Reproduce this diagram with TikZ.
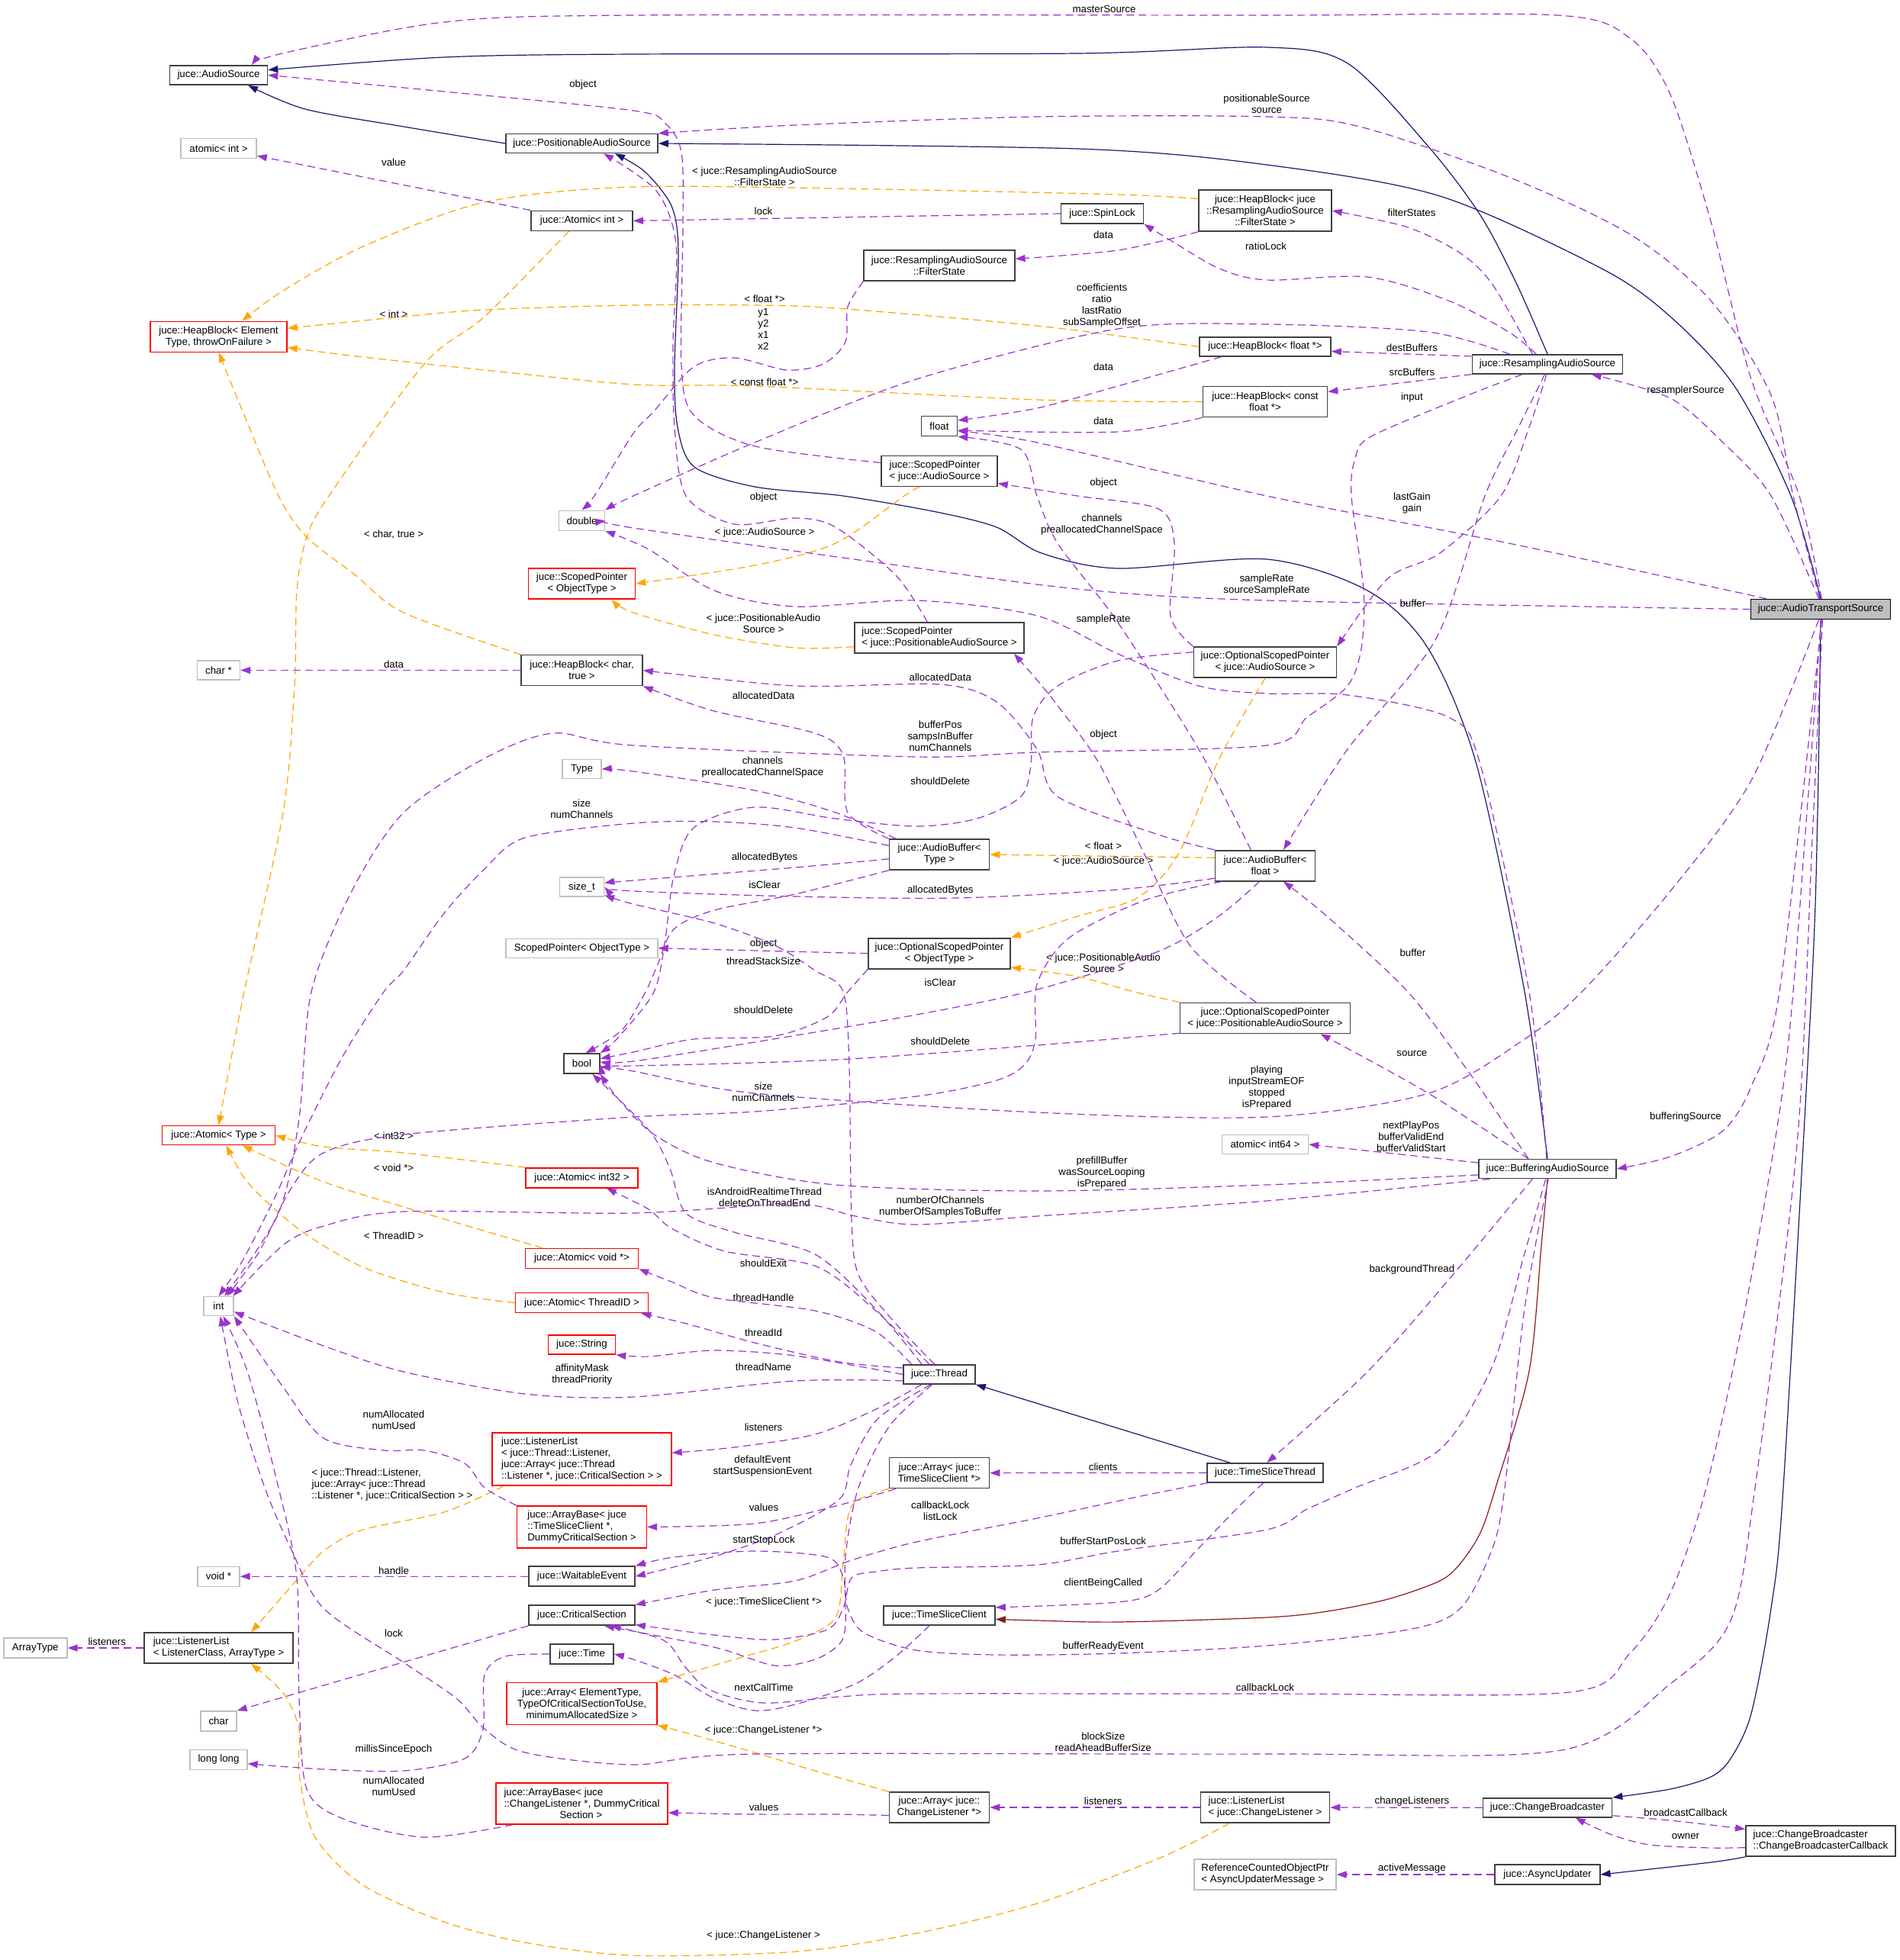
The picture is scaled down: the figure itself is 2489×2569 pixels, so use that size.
\documentclass[tikz,border=0pt]{standalone}
\usepackage{fontspec}
\setmainfont{Liberation Sans}
\usepackage{xcolor}
\usepackage{tikz}
\usetikzlibrary{arrows.meta}
\definecolor{MemberPurple}{HTML}{9A32CD}
\definecolor{TemplateOrange}{HTML}{FFA500}
\definecolor{BaseNavy}{HTML}{191970}
\definecolor{ProtRed}{HTML}{8B1A1A}
\definecolor{NodeGrey}{HTML}{BFBFBF}
\definecolor{NodeDark}{HTML}{404040}
\tikzstyle{cls} = [rectangle, draw=NodeDark, line width=1.6pt, fill=white, inner sep=2pt, align=center]
\tikzstyle{extcls} = [rectangle, draw=NodeGrey, line width=1.4pt, fill=white, inner sep=2pt, align=center]
\tikzstyle{trunc} = [rectangle, draw=red, line width=1.4pt, fill=white, inner sep=2pt, align=center]
\tikzstyle{maincls} = [rectangle, draw=black, line width=1.6pt, fill=NodeGrey, inner sep=2pt, align=center]
\tikzstyle{lbl} = [inner sep=0pt, align=center]
\tikzstyle{member} = [MemberPurple, line width=1.2pt, dash pattern=on 10pt off 6pt, -{Triangle[length=13pt, width=9pt]}]
\tikzstyle{tmpl} = [TemplateOrange, line width=1.2pt, dash pattern=on 10pt off 6pt, -{Triangle[length=13pt, width=9pt]}]
\tikzstyle{inherit} = [BaseNavy, line width=1.2pt, -{Triangle[length=13pt, width=9pt]}]
\tikzstyle{protinherit} = [ProtRed, line width=1.2pt, -{Triangle[length=13pt, width=9pt]}]
\tikzset{box/.style 2 args={minimum width=#1pt, minimum height=#2pt}}

\begin{document}
\begin{tikzpicture}[x=1pt, y=-1pt, font=\fontsize{13.3}{15}\selectfont]
\fill [white] (0,0) rectangle (2489,2569);
\useasboundingbox (0,0) rectangle (2489,2569);

% plain types, left column
\node (audio_source) [cls, box={128}{25}] at (286.5,98.5) {juce::AudioSource};
\node (std_atomic_int) [extcls, box={99}{26}] at (286.5,194.5) {atomic< int >};
\node (heap_block) [trunc, box={179}{40}] at (286.5,441.3) {juce::HeapBlock< Element\\Type, throwOnFailure >};
\node (char_ptr) [extcls, box={56}{25}] at (286.5,878.6) {char *};
\node (atomic_type) [trunc, box={148}{25}] at (286.5,1488) {juce::Atomic< Type >};
\node (t_int) [extcls, box={39}{25}] at (286.5,1712) {int};
\node (void_ptr) [extcls, box={55}{26}] at (286.5,2066.2) {void *};
\node (listener_list) [cls, align=left, box={195}{40}] at (286.5,2160) {juce::ListenerList\\< ListenerClass, ArrayType >};
\node (t_char) [extcls, box={47}{26}] at (286.5,2255.8) {char};
\node (long_long) [extcls, box={75}{26}] at (286.5,2306.3) {long long};
\node (array_type) [extcls, box={83}{26}] at (46.3,2160) {ArrayType};

% second column
\node (positionable) [cls, box={199}{25}] at (762.5,188) {juce::PositionableAudioSource};
\node (atomic_int) [cls, box={133}{26}] at (762.5,289.4) {juce::Atomic< int >};
\node (t_double) [extcls, box={60}{26}] at (762.5,682.3) {double};
\node (scoped_ptr) [trunc, box={140}{40}] at (762.5,765) {juce::ScopedPointer\\< ObjectType >};
\node (heap_block_char) [cls, box={159}{40}] at (762.5,878.6) {juce::HeapBlock< char,\\true >};
\node (t_type) [extcls, box={51}{25}] at (762.5,1008) {Type};
\node (t_size) [extcls, box={58}{25}] at (762.5,1162.6) {size\_t};
\node (scoped_ptr_std) [extcls, box={199}{25}] at (762.5,1242.7) {ScopedPointer< ObjectType >};
\node (t_bool) [cls, box={47}{26}] at (762.5,1394) {bool};
\node (atomic_int32) [trunc, box={147}{26}] at (762.5,1543.8) {juce::Atomic< int32 >};
\node (atomic_voidp) [trunc, box={148}{26}] at (762.5,1649.5) {juce::Atomic< void *>};
\node (atomic_threadid) [trunc, box={174}{26}] at (762.5,1707.7) {juce::Atomic< ThreadID >};
\node (string) [trunc, box={88}{25}] at (762.5,1762.5) {juce::String};
\node (listener_list_thread) [trunc, align=left, box={235}{69}] at (762.5,1912.5) {juce::ListenerList\\< juce::Thread::Listener,\\juce::Array< juce::Thread\\::Listener *, juce::CriticalSection > >};
\node (array_base_tsc) [trunc, align=left, box={170}{55}] at (762.5,2001.4) {juce::ArrayBase< juce\\::TimeSliceClient *,\\DummyCriticalSection >};
\node (waitable_event) [cls, box={139}{26}] at (762.5,2066.2) {juce::WaitableEvent};
\node (critical_section) [cls, box={139}{26}] at (762.5,2117.2) {juce::CriticalSection};
\node (time) [cls, box={83}{26}] at (762.5,2168) {juce::Time};
\node (array) [trunc, box={197}{55}] at (762.5,2233) {juce::Array< ElementType,\\TypeOfCriticalSectionToUse,\\minimumAllocatedSize >};
\node (array_base_cl) [trunc, align=left, box={225}{54}] at (762.5,2364) {juce::ArrayBase< juce\\::ChangeListener *, DummyCritical\\\hspace*{73pt}Section >};

% third column
\node (filter_state) [cls, box={197.5}{40}] at (1231,348) {juce::ResamplingAudioSource\\::FilterState};
\node (spin_lock) [cls, box={108}{26}] at (1444.6,280) {juce::SpinLock};
\node (t_float) [cls, box={47}{26}] at (1231,558.5) {float};
\node (scoped_ptr_as) [cls, align=left, box={152}{40}] at (1231,617.3) {juce::ScopedPointer\\< juce::AudioSource >};
\node (scoped_ptr_pas) [cls, align=left, box={222}{40}] at (1231,836) {juce::ScopedPointer\\< juce::PositionableAudioSource >};
\node (audio_buffer) [cls, box={131}{40}] at (1231,1120) {juce::AudioBuffer<\\Type >};
\node (opt_ptr) [cls, box={186}{40}] at (1231,1249.7) {juce::OptionalScopedPointer\\< ObjectType >};
\node (thread) [cls, box={94}{25}] at (1231,1801.4) {juce::Thread};
\node (array_tsc) [cls, box={131}{40}] at (1231,1930.6) {juce::Array< juce::\\TimeSliceClient *>};
\node (time_slice_client) [cls, box={146}{25}] at (1231,2117.2) {juce::TimeSliceClient};
\node (array_cl) [cls, box={131}{40}] at (1231,2369) {juce::Array< juce::\\ChangeListener *>};

% fourth column
\node (heap_block_fs) [cls, box={174}{54}] at (1658,276) {juce::HeapBlock< juce\\::ResamplingAudioSource\\::FilterState >};
\node (heap_block_float) [cls, box={172}{25}] at (1658,454.5) {juce::HeapBlock< float *>};
\node (heap_block_cfloat) [cls, box={163}{40}] at (1658,526.5) {juce::HeapBlock< const\\float *>};
\node (opt_ptr_as) [cls, box={187}{40}] at (1658,868) {juce::OptionalScopedPointer\\< juce::AudioSource >};
\node (audio_buffer_float) [cls, box={131}{40}] at (1658,1134.7) {juce::AudioBuffer<\\float >};
\node (opt_ptr_pas) [cls, box={223}{40}] at (1658,1334.4) {juce::OptionalScopedPointer\\< juce::PositionableAudioSource >};
\node (std_atomic_int64) [extcls, box={113}{25}] at (1658,1500) {atomic< int64 >};
\node (time_slice_thread) [cls, box={152}{25}] at (1658,1930.4) {juce::TimeSliceThread};
\node (listener_list_cl) [cls, align=left, box={169}{40}] at (1658,2369) {juce::ListenerList\\< juce::ChangeListener >};
\node (async_msg_ptr) [extcls, align=left, box={186}{40}] at (1658,2457) {ReferenceCountedObjectPtr\\< AsyncUpdaterMessage >};

% fifth and sixth column
\node (resampling) [cls, box={197}{25}] at (2028,477.4) {juce::ResamplingAudioSource};
\node (buffering) [cls, box={180}{25}] at (2028,1532) {juce::BufferingAudioSource};
\node (change_broadcaster) [cls, box={169}{25}] at (2028,2369.3) {juce::ChangeBroadcaster};
\node (async_updater) [cls, box={137.5}{26}] at (2028,2457) {juce::AsyncUpdater};
\node (transport) [maincls, box={183}{26}] at (2386,798.5) {juce::AudioTransportSource};
\node (broadcaster_callback) [cls, align=left, box={196}{40}] at (2386,2413) {juce::ChangeBroadcaster\\::ChangeBroadcasterCallback};

% base classes
\draw [inherit] plot [smooth] coordinates {(positionable.west) (529,166) (400,143) (audio_source.-19)};
\draw [inherit] plot [smooth] coordinates {(resampling.north) (1988,373) (1940,282) (1871,191) (1766,83) (1660,62) (1412,70) (830,71) (582,75) (audio_source.6)};
\draw [inherit] plot [smooth] coordinates {(transport.north) (2347,650) (2273,506) (2189,415) (2099,352) (1887,257) (1660,216) (1412,195) (positionable.east)};
\draw [inherit] plot [smooth] coordinates {(buffering.north) (1998,1300) (1935,1002) (1871,849) (1792,774) (1660,733) (1465,745) (1365,725) (1306,691) (1227,671) (1105,650) (989,638) (910,612) (888,560) (884,480) (889,330) (880,270) (845,225) (positionable.-17)};
\draw [inherit] (time_slice_thread.164) -- (thread.south east);
\draw [inherit] plot [smooth] coordinates {(transport.south) (2382,1065) (2374,1300) (2337,1950) (2321,2108) (2295,2246) (2268,2305) (2242,2329) (2189,2345) (change_broadcaster.north east)};
\draw [inherit] plot [smooth] coordinates {(broadcaster_callback.south west) (2242,2441) (async_updater.east)};
\draw [protinherit] plot [smooth] coordinates {(buffering.south) (2020,1632) (2004,1797) (1960,1950) (1940,2009) (1914,2049) (1887,2072) (1819,2096) (1739,2112) (1660,2120) (1465,2126) (1359,2124) (time_slice_client.-4)};

% template instances
\draw [tmpl] plot [smooth] coordinates {(heap_block_fs.170) (1465,255) (1148,248) (830,245) (635,265) (476,323) (371,381) (heap_block.34)};
\node (l_fs_tmpl) [lbl] at (1002,231.5) {< juce::ResamplingAudioSource\\::FilterState >};
\draw [tmpl] plot [smooth] coordinates {(heap_block_float.west) (1359,427) (1095,404) (989,400) (830,400) (635,406) (529,415) (heap_block.7)};
\node (l_floatp) [lbl] at (1002,392) {< float *>};
\draw [tmpl] plot [smooth] coordinates {(heap_block_cfloat.west) (1359,524) (989,506) (830,504) (635,485) (476,468) (heap_block.-9)};
\node (l_cfloatp) [lbl] at (1002,501) {< const float *>};
\draw [tmpl] plot [smooth] coordinates {(heap_block_char.north west) (529,803) (466,754) (402,704) (365,650) (318,539) (heap_block.south)};
\node (l_char_true) [lbl] at (516,701) {< char, true >};
\draw [tmpl] plot [smooth] coordinates {(atomic_int.-141) (635,415) (556,477) (431,650) (402,704) (389,774) (386,899) (371,1065) (320,1300) (atomic_type.north)};
\node (l_int_tmpl) [lbl] at (516,412) {< int >};
\draw [tmpl] plot [smooth] coordinates {(scoped_ptr_as.-141) (1185,650) (1095,712) (989,741) (scoped_ptr.east)};
\node (l_as_tmpl) [lbl] at (1002,698.5) {< juce::AudioSource >};
\draw [tmpl] plot [smooth] coordinates {(scoped_ptr_pas.186) (1042,849) (936,832) (830,803) (scoped_ptr.-28)};
\node (l_pas_tmpl) [lbl] at (1000.5,817.5) {< juce::PositionableAudio\\Source >};
\draw [tmpl] (audio_buffer_float.171) -- (audio_buffer.east);
\node (l_float_tmpl) [lbl] at (1446,1108.5) {< float >};
\draw [tmpl] plot [smooth] coordinates {(opt_ptr_as.south) (1598,994) (1545,1118) (1492,1176) (1412,1201) (opt_ptr.north east)};
\node (l_as_opt) [lbl] at (1446,1129.3) {< juce::AudioSource >};
\draw [tmpl] plot [smooth] coordinates {(opt_ptr_pas.north west) (1486,1300) (1412,1280) (opt_ptr.-11)};
\node (l_pas_opt) [lbl] at (1446,1262) {< juce::PositionableAudio\\Source >};
\draw [tmpl] plot [smooth] coordinates {(atomic_int32.north west) (529,1511) (424,1503) (atomic_type.east)};
\node (l_int32) [lbl] at (516,1488.6) {< int32 >};
\draw [tmpl] plot [smooth] coordinates {(atomic_voidp.165) (556,1590) (424,1549) (atomic_type.-23)};
\node (l_voidp) [lbl] at (516,1531) {< void *>};
\draw [tmpl] plot [smooth] coordinates {(atomic_threadid.west) (582,1694) (476,1661) (397,1615) (344,1570) (318,1541) (atomic_type.-53)};
\node (l_threadid) [lbl] at (516,1620) {< ThreadID >};
\draw [tmpl] plot [smooth] coordinates {(listener_list_thread.-161) (582,1982) (476,2005) (424,2033) (381,2080) (listener_list.26)};
\node (l_thread_listener) [lbl, align=left] at (514,1946) {< juce::Thread::Listener,\\juce::Array< juce::Thread\\::Listener *, juce::CriticalSection > >};
\draw [tmpl] plot [smooth] coordinates {(array_tsc.south west) (1116,1974) (1105,2049) (1095,2120) (1042,2151) (962,2175) (array.north east)};
\node (l_tsc_tmpl) [lbl] at (1001,2099.6) {< juce::TimeSliceClient *>};
\draw [tmpl] plot [smooth] coordinates {(array_cl.north west) (1068,2321) (989,2297) (909,2274) (array.south east)};
\node (l_cl_tmpl) [lbl] at (1000.5,2267.8) {< juce::ChangeListener *>};
\draw [tmpl] plot [smooth] coordinates {(listener_list_cl.-156) (1518,2436) (1359,2495) (1201,2534) (1042,2558) (830,2563) (688,2546) (582,2519) (476,2471) (413,2408) (392,2325) (392,2266) (371,2219) (listener_list.-26)};
\node (l_cl_list) [lbl] at (1000.5,2537) {< juce::ChangeListener >};

% members
\draw [member] plot [smooth] coordinates {(transport.85) (2358,650) (2295,497) (2242,290) (2189,124) (2136,50) (2041,20) (1660,20) (830,20) (582,29) (370,70) (audio_source.17)};
\node (l_master) [lbl] at (1447,11.6) {masterSource};
\draw [member] plot [smooth] coordinates {(transport.95) (2350,650) (2321,518) (2242,394) (2136,307) (1977,232) (1782,166) (1660,153) (1359,153) (1042,164) (positionable.north east)};
\node (l_positionable) [lbl] at (1660,136) {positionableSource\\source};
\draw [member] plot [smooth] coordinates {(transport.100) (2321,650) (2258,580) (2189,522) (resampling.-13)};
\node (l_resampler) [lbl] at (2209,511.6) {resamplerSource};
\draw [member] plot [smooth] coordinates {(scoped_ptr_as.172) (990,585) (910,545) (893,480) (895,300) (893,200) (872,162) (830,145) (582,120) (audio_source.east)};
\node (l_object_as) [lbl] at (764,111) {object};
\draw [member] (atomic_int.north west) -- (std_atomic_int.-11);
\node (l_value) [lbl] at (516,212.7) {value};
\draw [member] (spin_lock.west) -- (atomic_int.east);
\node (l_lock_spin) [lbl] at (1000.5,276.5) {lock};
\draw [member] plot [smooth] coordinates {(heap_block_fs.south west) (1465,328) (filter_state.5)};
\node (l_data_fs) [lbl] at (1446,307.6) {data};
\draw [member] plot [smooth] coordinates {(resampling.138) (1977,435) (1898,394) (1792,363) (1660,367) (1598,352) (1534,315) (spin_lock.south east)};
\node (l_ratio_lock) [lbl] at (1659,322.5) {ratioLock};
\draw [member] plot [smooth] coordinates {(resampling.146) (1956,373) (1914,332) (1845,298) (heap_block_fs.east)};
\node (l_filter_states) [lbl] at (1850,278.6) {filterStates};
\draw [member] plot [smooth] coordinates {(resampling.165) (1871,435) (1660,425) (1465,431) (1201,497) (989,580) (830,650) (t_double.north east)};
\node (l_coefficients) [lbl] at (1444,400.5) {coefficients\\ratio\\lastRatio\\subSampleOffset};
\draw [member] plot [smooth] coordinates {(filter_state.south west) (1111,402) (1108,448) (1079,477) (1031,485) (962,469) (909,481) (857,539) (830,568) (781,647) (t_double.north)};
\node (l_y1) [lbl] at (1000.5,431) {y1\\y2\\x1\\x2};
\draw [member] plot [smooth] coordinates {(heap_block_float.-167) (1465,506) (1359,535) (t_float.17)};
\node (l_data_float) [lbl] at (1446,481) {data};
\draw [member] plot [smooth] coordinates {(heap_block_cfloat.south west) (1465,566) (t_float.-13)};
\node (l_data_cfloat) [lbl] at (1446,551.4) {data};
\draw [member] (resampling.174) -- (heap_block_float.-4);
\node (l_dest) [lbl] at (1850.4,455.6) {destBuffers};
\draw [member] (resampling.south west) -- (heap_block_cfloat.9);
\node (l_src) [lbl] at (1850.4,487.6) {srcBuffers};
\draw [member] plot [smooth] coordinates {(resampling.-95) (2004,560) (1967,650) (1887,725) (1819,758) (opt_ptr_as.north east)};
\node (l_input) [lbl] at (1850.4,520.7) {input};
\draw [member] plot [smooth] coordinates {(transport.169) (1977,712) (1660,650) (1359,580) (t_float.-15)};
\node (l_gain) [lbl] at (1850.4,660) {lastGain\\gain};
\draw [member] plot [smooth] coordinates {(opt_ptr_as.north west) (1534,808) (1539,712) (1518,667) (1412,650) (scoped_ptr_as.-12)};
\node (l_object_opt) [lbl] at (1446,632.7) {object};
\draw [member] plot [smooth] coordinates {(scoped_ptr_pas.127) (1174,754) (1095,691) (1042,679) (962,687) (899,650) (884,560) (882,450) (886,320) (860,250) (positionable.-25)};
\node (l_object_pas) [lbl] at (1000.5,652) {object};
\draw [member] plot [smooth] coordinates {(transport.west) (1660,787) (1412,772) (1148,737) (830,692) (t_double.east)};
\node (l_sample_rate) [lbl] at (1660,767) {sampleRate\\sourceSampleRate};
\draw [member] plot [smooth] coordinates {(audio_buffer_float.132) (1571,982) (1465,816) (1386,712) (1359,650) (1338,589) (t_float.south east)};
\node (l_channels_float) [lbl] at (1444,687.7) {channels\\preallocatedChannelSpace};
\draw [member] plot [smooth] coordinates {(resampling.-105) (1990,560) (1946,650) (1882,837) (1766,982) (audio_buffer_float.41)};
\node (l_buffer_rs) [lbl] at (1851.4,790.5) {buffer};
\draw [member] plot [smooth] coordinates {(buffering.95) (2004,1300) (1940,1002) (1898,940) (1766,911) (1660,909) (1571,899) (1465,857) (1359,807) (1201,787) (1042,795) (936,774) (850,720) (t_double.south east)};
\node (l_sample_rate_buf) [lbl] at (1446,811.7) {sampleRate};
\draw [member] (heap_block_char.west) -- (char_ptr.east);
\node (l_data_char) [lbl] at (516,870.6) {data};
\draw [member] plot [smooth] coordinates {(audio_buffer_float.north west) (1518,1094) (1386,1044) (1359,982) (1306,920) (1232,897) (1042,899) (heap_block_char.east)};
\node (l_alloc_float) [lbl] at (1232.3,887.6) {allocatedData};
\draw [member] plot [smooth] coordinates {(audio_buffer.north west) (1111,1065) (1105,990) (1068,961) (936,932) (heap_block_char.south east)};
\node (l_alloc_type) [lbl] at (1000.5,911.6) {allocatedData};
\draw [member] plot [smooth] coordinates {(resampling.-158) (1924,518) (1797,572) (1776,601) (1771,650) (1787,774) (1784,850) (1766,899) (1713,940) (1660,977) (1359,986) (1201,992) (830,977) (725,961) (635,994) (529,1065) (461,1168) (408,1300) (392,1466) (365,1590) (t_int.60)};
\node (l_buffer_pos) [lbl] at (1232.3,965) {bufferPos\\sampsInBuffer\\numChannels};
\draw [member] plot [smooth] coordinates {(opt_ptr_pas.120) (1560,1240) (1500,1120) (1440,1000) (1390,930) (1358,890) (scoped_ptr_pas.-12)};
\node (l_object_opt_pas) [lbl] at (1446,963) {object};
\draw [member] plot [smooth] coordinates {(audio_buffer.160) (1095,1065) (989,1036) (830,1011) (t_type.east)};
\node (l_channels_type) [lbl] at (999.4,1005.8) {channels\\preallocatedChannelSpace};
\draw [member] plot [smooth] coordinates {(opt_ptr_as.172) (1465,866) (1386,899) (1354,940) (1351,1002) (1338,1044) (1280,1073) (1201,1083) (1095,1073) (989,1058) (909,1085) (883,1148) (872,1230) (857,1300) (810,1360) (t_bool.north east)};
\node (l_delete_as) [lbl] at (1232.3,1023.5) {shouldDelete};
\draw [member] plot [smooth] coordinates {(audio_buffer.170) (1042,1085) (936,1077) (830,1079) (688,1098) (635,1139) (582,1197) (529,1272) (503,1300) (450,1383) (397,1487) (360,1570) (318,1652) (t_int.north)};
\node (l_size_type) [lbl] at (762.3,1060) {size\\numChannels};
\draw [member] plot [smooth] coordinates {(audio_buffer.185) (1042,1137) (830,1154) (t_size.10)};
\node (l_bytes_type) [lbl] at (1002,1124) {allocatedBytes};
\draw [member] plot [smooth] coordinates {(audio_buffer.south west) (1042,1172) (936,1193) (883,1218) (862,1264) (846,1300) (815,1350) (t_bool.70)};
\node (l_clear_type) [lbl] at (1002,1159.5) {isClear};
\draw [member] plot [smooth] coordinates {(audio_buffer_float.-166) (1465,1166) (1254,1177) (1042,1175) (830,1168) (t_size.east)};
\node (l_bytes_float) [lbl] at (1232.3,1167.4) {allocatedBytes};
\draw [member] (opt_ptr.west) -- (scoped_ptr_std.east);
\node (l_object_std) [lbl] at (1000.5,1236.7) {object};
\draw [member] plot [smooth] coordinates {(thread.115) (1174,1735) (1126,1673) (1116,1600) (1113,1400) (1105,1300) (1068,1272) (1015,1239) (936,1210) (830,1185) (t_size.-20)};
\node (l_stack) [lbl] at (1000.5,1259.5) {threadStackSize};
\draw [member] plot [smooth] coordinates {(buffering.152) (1924,1404) (1845,1300) (1739,1201) (audio_buffer_float.-41)};
\node (l_buffer_buf) [lbl] at (1851.4,1248.3) {buffer};
\draw [member] plot [smooth] coordinates {(audio_buffer_float.-110) (1597,1201) (1518,1247) (1359,1297) (1201,1330) (989,1366) (830,1391) (t_bool.5)};
\node (l_clear_float) [lbl] at (1232.3,1287.6) {isClear};
\draw [member] plot [smooth] coordinates {(opt_ptr.south west) (1111,1300) (1084,1333) (1015,1358) (909,1362) (830,1379) (t_bool.15)};
\node (l_delete_obj) [lbl] at (1000.5,1323.6) {shouldDelete};
\draw [member] plot [smooth] coordinates {(opt_ptr_pas.190) (1359,1370) (1095,1389) (830,1397) (t_bool.-3)};
\node (l_delete_pas) [lbl] at (1232.3,1364.3) {shouldDelete};
\draw [member] plot [smooth] coordinates {(buffering.152) (1872,1433) (opt_ptr_pas.-16)};
\node (l_source) [lbl] at (1850.4,1380.8) {source};
\draw [member] plot [smooth] coordinates {(transport.-100) (2295,1023) (2189,1168) (2073,1300) (1998,1362) (1872,1433) (1660,1464) (1359,1458) (989,1433) (830,1404) (t_bool.-10)};
\node (l_playing) [lbl] at (1660,1425.6) {playing\\inputStreamEOF\\stopped\\isPrepared};
\draw [member] plot [smooth] coordinates {(audio_buffer_float.-160) (1500,1180) (1400,1230) (1359,1290) (1357,1362) (1343,1395) (1306,1416) (1201,1437) (989,1457) (830,1464) (529,1487) (424,1511) (380,1560) (340,1640) (t_int.50)};
\node (l_size_float) [lbl] at (1000.5,1430.8) {size\\numChannels};
\draw [member] (buffering.175) -- (std_atomic_int64.east);
\node (l_play_pos) [lbl] at (1849.3,1490) {nextPlayPos\\bufferValidEnd\\bufferValidStart};
\draw [member] plot [smooth] coordinates {(transport.-84) (2332,1300) (2295,1424) (2258,1482) (2189,1516) (buffering.east)};
\node (l_buffering) [lbl] at (2209,1463.8) {bufferingSource};
\draw [member] plot [smooth] coordinates {(buffering.-175) (1660,1553) (1359,1561) (1095,1553) (936,1524) (857,1487) (810,1440) (t_bool.south east)};
\node (l_prefill) [lbl] at (1444,1537) {prefillBuffer\\wasSourceLooping\\isPrepared};
\draw [member] plot [smooth] coordinates {(thread.150) (1147,1715) (1068,1644) (962,1615) (899,1590) (878,1532) (851,1482) (t_bool.-45)};
\node (l_android) [lbl] at (1002,1569.5) {isAndroidRealtimeThread\\deleteOnThreadEnd};
\draw [member] plot [smooth] coordinates {(buffering.-170) (1660,1574) (1359,1594) (1201,1605) (1121,1594) (1042,1578) (830,1590) (529,1588) (424,1607) (371,1632) (t_int.35)};
\node (l_num_channels) [lbl] at (1232.3,1581.5) {numberOfChannels\\numberOfSamplesToBuffer};
\draw [member] plot [smooth] coordinates {(thread.135) (1150,1720) (1070,1660) (950,1640) (880,1610) (850,1585) (atomic_int32.-23)};
\node (l_exit) [lbl] at (1000.5,1655.3) {shouldExit};
\draw [member] plot [smooth] coordinates {(thread.160) (1147,1745) (1068,1718) (936,1701) (880,1680) (atomic_voidp.south east)};
\node (l_handle_thread) [lbl] at (1000.5,1700.5) {threadHandle};
\draw [member] plot [smooth] coordinates {(thread.170) (1100,1785) (989,1760) (900,1735) (atomic_threadid.-10)};
\node (l_thread_id) [lbl] at (1000.5,1746.5) {threadId};
\draw [member] plot [smooth] coordinates {(thread.west) (1042,1777) (936,1770) (850,1778) (string.south east)};
\node (l_thread_name) [lbl] at (1000.5,1791.7) {threadName};
\draw [member] plot [smooth] coordinates {(thread.190) (1042,1810) (830,1831) (688,1827) (529,1798) (424,1764) (t_int.-20)};
\node (l_affinity) [lbl] at (762.8,1801.6) {affinityMask\\threadPriority};
\draw [member] plot [smooth] coordinates {(buffering.-146) (1909,1665) (1792,1798) (time_slice_thread.80)};
\node (l_background) [lbl] at (1850.4,1663.6) {backgroundThread};
\draw [member] plot [smooth] coordinates {(array_base_tsc.north west) (635,1950) (609,1918) (556,1901) (503,1901) (424,1885) (371,1818) (t_int.south east)};
\node (l_num_alloc_tsc) [lbl] at (516,1861) {numAllocated\\numUsed};
\draw [member] plot [smooth] coordinates {(thread.-150) (1148,1847) (1068,1880) (962,1897) (listener_list_thread.4)};
\node (l_listeners_thread) [lbl] at (1000.5,1870.5) {listeners};
\draw [member] plot [smooth] coordinates {(thread.-130) (1150,1860) (1115,1920) (1100,1965) (1020,2010) (936,2040) (waitable_event.east)};
\node (l_events) [lbl] at (999.4,1921.5) {defaultEvent\\startSuspensionEvent};
\draw [member] (time_slice_thread.west) -- (array_tsc.east);
\node (l_clients) [lbl] at (1445.7,1922.7) {clients};
\draw [member] plot [smooth] coordinates {(array_tsc.200) (1095,1974) (989,1997) (array_base_tsc.east)};
\node (l_values_tsc) [lbl] at (1001,1975.7) {values};
\draw [member] plot [smooth] coordinates {(time_slice_thread.-170) (1500,1960) (1359,1990) (1201,2021) (1116,2045) (1042,2072) (936,2084) (critical_section.north east)};
\node (l_list_lock) [lbl] at (1232.3,1980) {callbackLock\\listLock};
\draw [member] plot [smooth] coordinates {(thread.-125) (1165,1870) (1125,1950) (1108,2040) (1108,2128) (1100,2155) (1068,2175) (1015,2183) (936,2159) (critical_section.-25)};
\node (l_start_stop) [lbl] at (1001,2018.7) {startStopLock};
\draw [member] plot [smooth] coordinates {(buffering.-100) (1996,1650) (1956,1790) (1887,1900) (1776,1950) (1713,1978) (1660,2005) (1465,2033) (1359,2051) (1201,2055) (1148,2060) (1116,2068) (1105,2108) (1084,2136) (1015,2149) (936,2143) (critical_section.-10)};
\node (l_start_pos) [lbl] at (1445.7,2019.5) {bufferStartPosLock};
\draw [member] (waitable_event.west) -- (void_ptr.east);
\node (l_handle) [lbl] at (516,2058.6) {handle};
\draw [member] plot [smooth] coordinates {(time_slice_thread.-100) (1624,1974) (1571,2029) (1518,2084) (1465,2100) (time_slice_client.8)};
\node (l_client_called) [lbl] at (1445.7,2075.5) {clientBeingCalled};
\draw [member] (listener_list.west) -- (array_type.east);
\node (l_listeners_list) [lbl] at (140.3,2151.7) {listeners};
\draw [member] (critical_section.south west) -- (t_char.north east);
\node (l_lock_cs) [lbl] at (516,2140.7) {lock};
\draw [member] plot [smooth] coordinates {(buffering.-85) (1998,1715) (1972,1950) (1956,2029) (1914,2108) (1845,2136) (1660,2157) (1465,2167) (1306,2169) (1201,2163) (1132,2140) (1111,2108) (1105,2068) (1084,2041) (989,2033) (883,2041) (waitable_event.north east)};
\node (l_ready) [lbl] at (1445.7,2158.4) {bufferReadyEvent};
\draw [member] plot [smooth] coordinates {(time_slice_client.-134) (1174,2171) (1121,2207) (1042,2234) (989,2242) (936,2226) (883,2195) (830,2175) (time.east)};
\node (l_next_call) [lbl] at (1001,2211.7) {nextCallTime};
\draw [member] plot [smooth] coordinates {(transport.-88) (2368,1065) (2340,1400) (2290,1700) (2236,1950) (2189,2088) (2136,2167) (2057,2218) (1660,2220) (1201,2220) (1100,2224) (1000,2232) (930,2215) (898,2185) (870,2150) (critical_section.-20)};
\node (l_callback_lock) [lbl] at (1658,2211.7) {callbackLock};
\draw [member] plot [smooth] coordinates {(transport.-80) (2375,1100) (2355,1500) (2300,1950) (2268,2124) (2189,2207) (2046,2294) (1660,2299) (989,2299) (830,2313) (688,2297) (635,2266) (598,2226) (529,2179) (424,2108) (381,2029) (347,1950) (312,1839) (t_int.-80)};
\node (l_block_size) [lbl] at (1445.7,2283) {blockSize\\readAheadBufferSize};
\draw [member] plot [smooth] coordinates {(time.west) (662,2171) (635,2195) (633,2266) (609,2305) (529,2321) (424,2319) (long_long.-8)};
\node (l_millis) [lbl] at (516,2292.7) {millisSinceEpoch};
\draw [member] plot [smooth] coordinates {(array_base_cl.-163) (556,2408) (450,2384) (402,2345) (392,2226) (389,2068) (365,1950) (325,1800) (t_int.-65)};
\node (l_num_alloc_cl) [lbl] at (516,2341) {numAllocated\\numUsed};
\draw [member] (listener_list_cl.west) -- (array_cl.east);
\node (l_listeners_cl) [lbl] at (1445.7,2360.6) {listeners};
\draw [member] plot [smooth] coordinates {(array_cl.-171) (1095,2378) (989,2378) (array_base_cl.-6)};
\node (l_values_cl) [lbl] at (1001,2368.5) {values};
\draw [member] (change_broadcaster.west) -- (listener_list_cl.east);
\node (l_change_listeners) [lbl] at (1850.4,2360.6) {changeListeners};
\draw [member] plot [smooth] coordinates {(change_broadcaster.-7) (2189,2386) (broadcaster_callback.171)};
\node (l_broadcast) [lbl] at (2209,2375.6) {broadcastCallback};
\draw [member] plot [smooth] coordinates {(broadcaster_callback.185) (2242,2422) (2162,2418) (2110,2404) (change_broadcaster.-20)};
\node (l_owner) [lbl] at (2209,2406.8) {owner};
\draw [member] (async_updater.west) -- (async_msg_ptr.east);
\node (l_active) [lbl] at (1850.4,2448.6) {activeMessage};
\end{tikzpicture}
\end{document}
